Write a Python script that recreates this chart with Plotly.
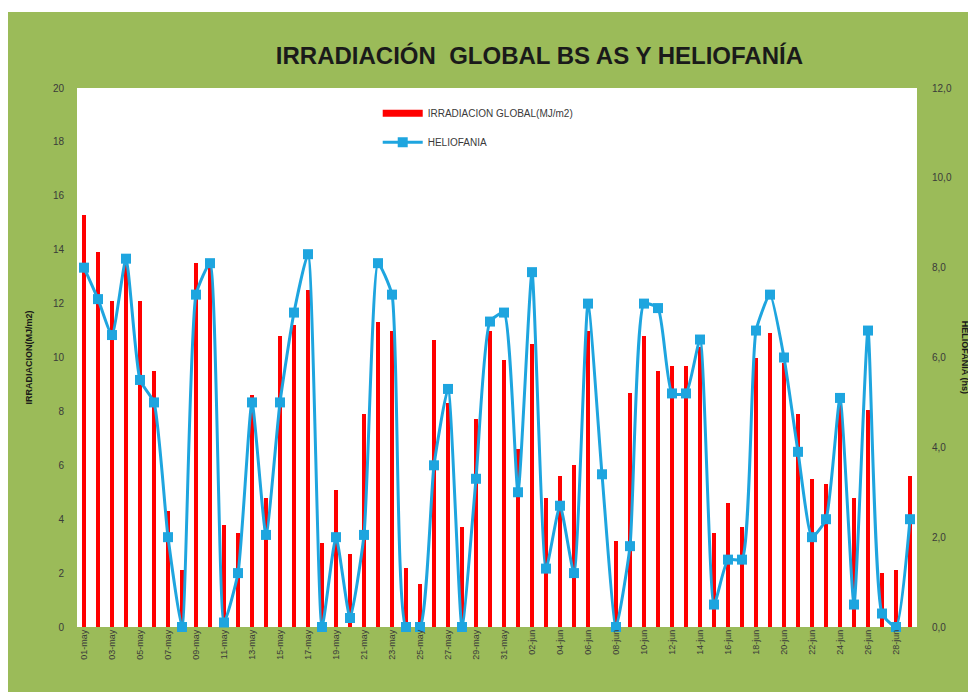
import plotly.graph_objects as go

# Daily categories (01-may .. 29-jun)
fechas = [
    "01-may", "02-may", "03-may", "04-may", "05-may", "06-may", "07-may", "08-may",
    "09-may", "10-may", "11-may", "12-may", "13-may", "14-may", "15-may", "16-may",
    "17-may", "18-may", "19-may", "20-may", "21-may", "22-may", "23-may", "24-may",
    "25-may", "26-may", "27-may", "28-may", "29-may", "30-may", "31-may",
    "01-jun", "02-jun", "03-jun", "04-jun", "05-jun", "06-jun", "07-jun", "08-jun",
    "09-jun", "10-jun", "11-jun", "12-jun", "13-jun", "14-jun", "15-jun", "16-jun",
    "17-jun", "18-jun", "19-jun", "20-jun", "21-jun", "22-jun", "23-jun", "24-jun",
    "25-jun", "26-jun", "27-jun", "28-jun", "29-jun",
]

# Irradiacion global (MJ/m2), left axis
irradiacion = [
    15.3, 13.9, 12.1, 13.6, 12.1, 9.5, 4.3, 2.1, 13.5, 13.4, 3.8, 3.5, 8.6, 4.8, 10.8, 11.2,
    12.5, 3.1, 5.1, 2.7, 7.9, 11.3, 11.0, 2.2, 1.6, 10.65, 8.3, 3.7, 7.7, 11.0, 9.9,
    6.6, 10.5, 4.8, 5.6, 6.0, 11.0, 0.0, 3.2, 8.7, 10.8, 9.5, 9.7, 9.7, 10.4, 3.5, 4.6,
    3.7, 10.0, 10.9, 9.8, 7.9, 5.5, 5.3, 8.4, 4.8, 8.05, 2.0, 2.1, 5.6,
]

# Heliofania (hs), right axis
heliofania = [
    8.0, 7.3, 6.5, 8.2, 5.5, 5.0, 2.0, 0.0, 7.4, 8.1, 0.1, 1.2, 5.0, 2.05, 5.0, 7.0,
    8.3, 0.0, 2.0, 0.2, 2.05, 8.1, 7.4, 0.0, 0.0, 3.6, 5.3, 0.0, 3.3, 6.8, 7.0,
    3.0, 7.9, 1.3, 2.7, 1.2, 7.2, 3.4, 0.0, 1.8, 7.2, 7.1, 5.2, 5.2, 6.4, 0.5, 1.5,
    1.5, 6.6, 7.4, 6.0, 3.9, 2.0, 2.4, 5.1, 0.5, 6.6, 0.3, 0.0, 2.4,
]

# every other day gets a tick label
tick_fechas = fechas[::2]

GREEN = "#9BBB59"
RED = "#FF0000"
BLUE = "#1EA5DF"
TEXT = "#3a3a3a"
FONT = "Liberation Sans"

fig = go.Figure()

fig.add_trace(go.Bar(
    x=fechas, y=irradiacion,
    name="IRRADIACION GLOBAL(MJ/m2)",
    marker=dict(color=RED, line=dict(width=0)),
    width=0.26,
    showlegend=False,
))

# legend entry drawn as a wide red swatch, like the Excel legend
fig.add_trace(go.Scatter(
    x=[None], y=[None], mode="lines",
    name="IRRADIACION GLOBAL(MJ/m2)",
    line=dict(color=RED, width=7),
    legendgroup="a",
))

fig.add_trace(go.Scatter(
    x=fechas, y=heliofania,
    name="HELIOFANIA",
    yaxis="y2",
    mode="lines+markers",
    line=dict(color=BLUE, width=3, shape="spline", smoothing=0.5),
    marker=dict(symbol="square", size=10, color=BLUE),
    cliponaxis=False,
    legendgroup="b",
))

# thin white strip above the green frame
fig.add_shape(type="rect", xref="paper", yref="paper",
              x0=-0.2, x1=1.2, y0=1.141, y1=1.3,
              fillcolor="white", line_width=0, layer="below")

# right-hand axis title, close to the image edge
fig.add_annotation(
    text="<b>HELIOFANIA (hs)</b>", xref="paper", yref="paper",
    x=1.058, y=0.5, xanchor="center", yanchor="middle",
    textangle=90, showarrow=False,
    font=dict(family=FONT, size=9, color="#1a1a1a"),
)

fig.update_layout(
    width=968, height=684,
    margin=dict(l=69, r=59, t=80, b=65),
    paper_bgcolor=GREEN,
    plot_bgcolor="white",
    separators=",.",
    font=dict(family=FONT, size=10, color=TEXT),
    title=dict(
        text="<b>IRRADIACIÓN  GLOBAL BS AS Y HELIOFANÍA</b>",
        x=0.549, xanchor="center", y=0.931, yanchor="middle",
        font=dict(family=FONT, size=24, color="#1a1a1a"),
    ),
    bargap=0,
    showlegend=True,
    legend=dict(
        x=0.358, y=0.98, xanchor="left", yanchor="top",
        bgcolor="rgba(255,255,255,0)",
        font=dict(family=FONT, size=10, color=TEXT),
        traceorder="grouped", tracegroupgap=10,
        itemwidth=40,
    ),
    xaxis=dict(
        type="category",
        tickmode="array", tickvals=tick_fechas, ticktext=tick_fechas,
        tickangle=-90, tickfont=dict(size=9, color=TEXT),
        showgrid=False, showline=False, zeroline=False, ticks="",
        range=[-0.5, 59.5],
    ),
    yaxis=dict(
        range=[0, 20], dtick=2, showgrid=False, zeroline=False,
        showline=False, ticks="", tickfont=dict(size=10, color=TEXT),
        ticklabelstandoff=12,
        title=dict(text="<b>IRRADIACION(MJ/m2)</b>", standoff=18,
                   font=dict(family=FONT, size=9, color="#1a1a1a")),
    ),
    yaxis2=dict(
        overlaying="y", side="right",
        range=[0, 12], dtick=2, tickformat=".1f",
        showgrid=False, zeroline=False, showline=False, ticks="",
        tickfont=dict(size=10, color=TEXT),
        ticklabelstandoff=14,
    ),
)

fig.write_html("out.html")
